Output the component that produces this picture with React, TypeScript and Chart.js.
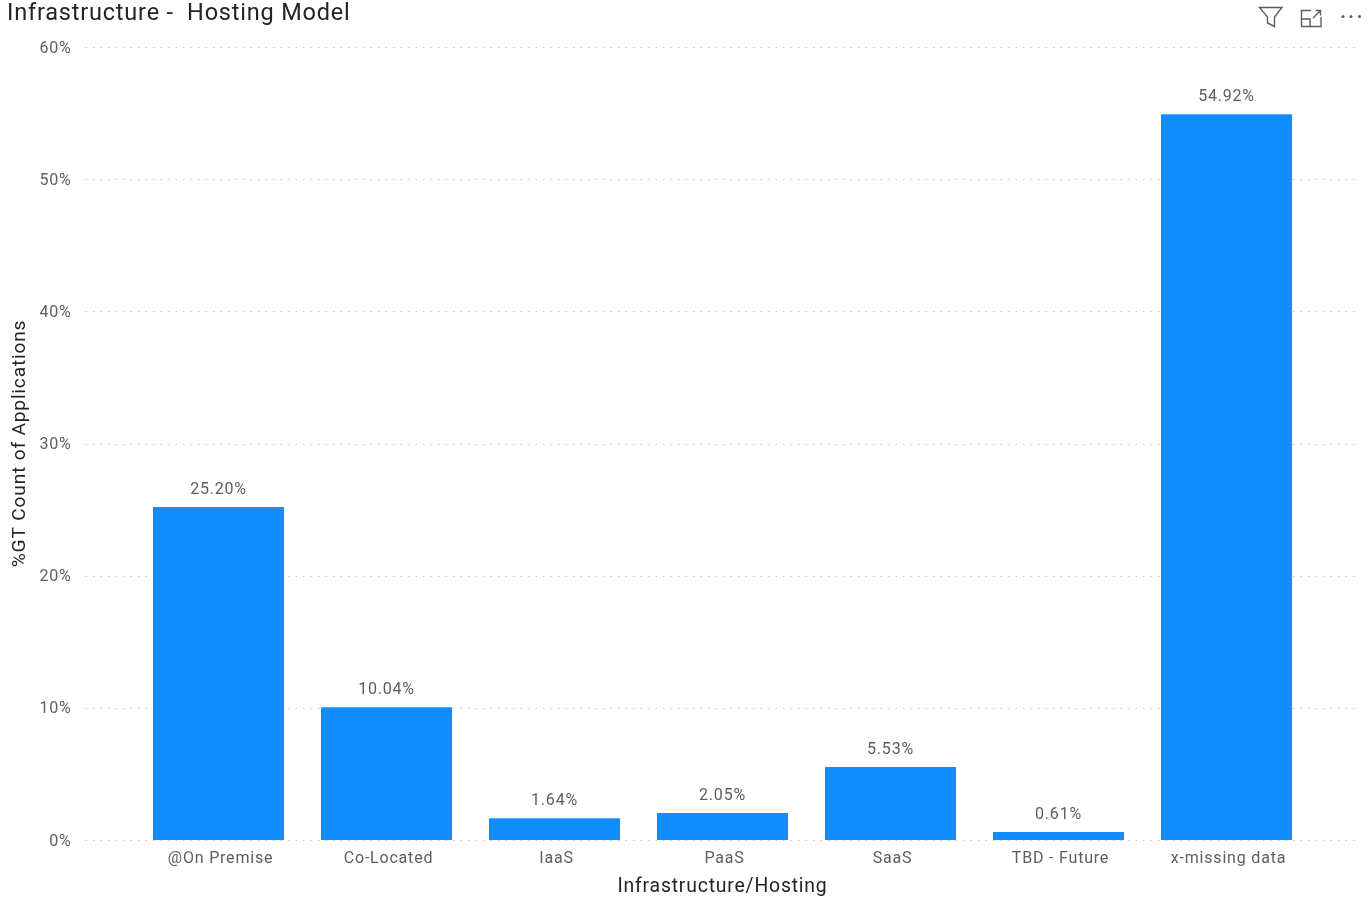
import React, { useEffect, useRef } from "react";
import { Chart, registerables, Plugin } from "chart.js";

Chart.register(...registerables);

const chartTitle = "Infrastructure -  Hosting Model";
const categories = ["@On Premise", "Co-Located", "IaaS", "PaaS", "SaaS", "TBD - Future", "x-missing data"];
const shareOfApplications = [25.2, 10.04, 1.64, 2.05, 5.53, 0.61, 54.92];
const yTicks = [0, 10, 20, 30, 40, 50, 60];
const yAxisTitle = "%GT Count of Applications";
const xAxisTitle = "Infrastructure/Hosting";

const FONT = "Roboto, 'Noto Sans', sans-serif";
const BAR_BLUE = "#118DFF";
const LABEL_GREY = "#605E5C";
const TITLE_DARK = "#252423";

// Slightly open tracking on all canvas text.
const trackedText: Plugin<"bar"> = {
  id: "trackedText",
  beforeDraw(chart) {
    (chart.ctx as CanvasRenderingContext2D & { letterSpacing: string }).letterSpacing = "0.8px";
  },
};

// Dotted value gridlines that run past the category band on both sides.
const wideGrid: Plugin<"bar"> = {
  id: "wideGrid",
  beforeDatasetsDraw(chart) {
    const { ctx, chartArea, scales } = chart;
    ctx.save();
    ctx.strokeStyle = "#C8C6C4";
    ctx.lineWidth = 1;
    ctx.setLineDash([1.5, 6]);
    for (const tick of scales.y.ticks) {
      const y = Math.round(scales.y.getPixelForValue(tick.value)) + 0.5;
      ctx.beginPath();
      ctx.moveTo(chartArea.left - 49, y);
      ctx.lineTo(chartArea.right + 50, y);
      ctx.stroke();
    }
    ctx.restore();
  },
};

// Percentage captions above each bar.
const valueLabels: Plugin<"bar"> = {
  id: "valueLabels",
  afterDatasetsDraw(chart) {
    const { ctx } = chart;
    const meta = chart.getDatasetMeta(0);
    ctx.save();
    ctx.font = `16px ${FONT}`;
    ctx.fillStyle = LABEL_GREY;
    ctx.textAlign = "center";
    ctx.textBaseline = "alphabetic";
    meta.data.forEach((bar, i) => {
      ctx.fillText(`${shareOfApplications[i].toFixed(2)}%`, bar.x, bar.y - 13);
    });
    ctx.restore();
  },
};

export default function App() {
  const canvasRef = useRef<HTMLCanvasElement>(null);

  useEffect(() => {
    const chart = new Chart(canvasRef.current!, {
      type: "bar",
      data: {
        labels: categories,
        datasets: [
          {
            data: shareOfApplications,
            backgroundColor: BAR_BLUE,
            categoryPercentage: 1,
            barPercentage: 0.78,
          },
        ],
      },
      options: {
        animation: false,
        responsive: false,
        layout: { autoPadding: false, padding: { left: 7, right: 60.5, top: 0, bottom: 0 } },
        plugins: {
          legend: { display: false },
          tooltip: { enabled: false },
          title: {
            display: true,
            text: chartTitle,
            align: "start",
            color: TITLE_DARK,
            font: { family: FONT, size: 23.5, weight: "normal" },
            padding: { top: 0, bottom: 18.8 },
          },
        },
        scales: {
          x: {
            grid: { display: false },
            border: { display: false },
            afterFit(scale) {
              scale.height = 61;
            },
            ticks: {
              color: LABEL_GREY,
              font: { family: FONT, size: 16 },
              padding: 1,
              labelOffset: 2,
              maxRotation: 0,
              autoSkip: false,
            },
            title: {
              display: true,
              text: xAxisTitle,
              color: TITLE_DARK,
              font: { family: FONT, size: 19.4 },
              padding: { top: 4, bottom: 2 },
            },
          },
          y: {
            min: 0,
            max: 60,
            grid: { display: false },
            border: { display: false },
            afterFit(scale) {
              // The wide label gap must not inset the value range.
              scale.width = 127.5;
              scale.paddingTop = 0;
              scale.paddingBottom = 0;
            },
            afterBuildTicks(scale) {
              scale.ticks = yTicks.map((value) => ({ value }));
            },
            ticks: {
              color: LABEL_GREY,
              font: { family: FONT, size: 16 },
              padding: 55,
              labelOffset: 1.5,
              callback: (value) => `${value}%`,
            },
            title: {
              display: true,
              text: yAxisTitle,
              color: TITLE_DARK,
              font: { family: FONT, size: 19.2 },
              padding: { top: 2, bottom: 0 },
            },
          },
        },
      },
      plugins: [trackedText, wideGrid, valueLabels],
    });
    return () => chart.destroy();
  }, []);

  return (
    <div style={{ position: "absolute", left: 0, top: 0, width: 1371, height: 901, background: "#fff" }}>
      <canvas ref={canvasRef} width={1371} height={901} style={{ display: "block" }} />
      <svg
        width={1371}
        height={60}
        style={{ position: "absolute", left: 0, top: 0 }}
        fill="none"
        stroke={LABEL_GREY}
        strokeWidth={1.4}
      >
        <path d="M1259.5 7.5H1282L1274.5 17V26.5L1267.5 23V17Z" />
        <path d="M1311 10.5H1301.5V26.5H1321V17M1301.5 19H1310V26.5M1313 18L1320.5 10.5M1315.5 10.5H1320.5V15.5" />
        <g fill={LABEL_GREY} stroke="none">
          <circle cx={1343} cy={16.5} r={1.5} />
          <circle cx={1351} cy={16.5} r={1.5} />
          <circle cx={1359.5} cy={16.5} r={1.5} />
        </g>
      </svg>
    </div>
  );
}
